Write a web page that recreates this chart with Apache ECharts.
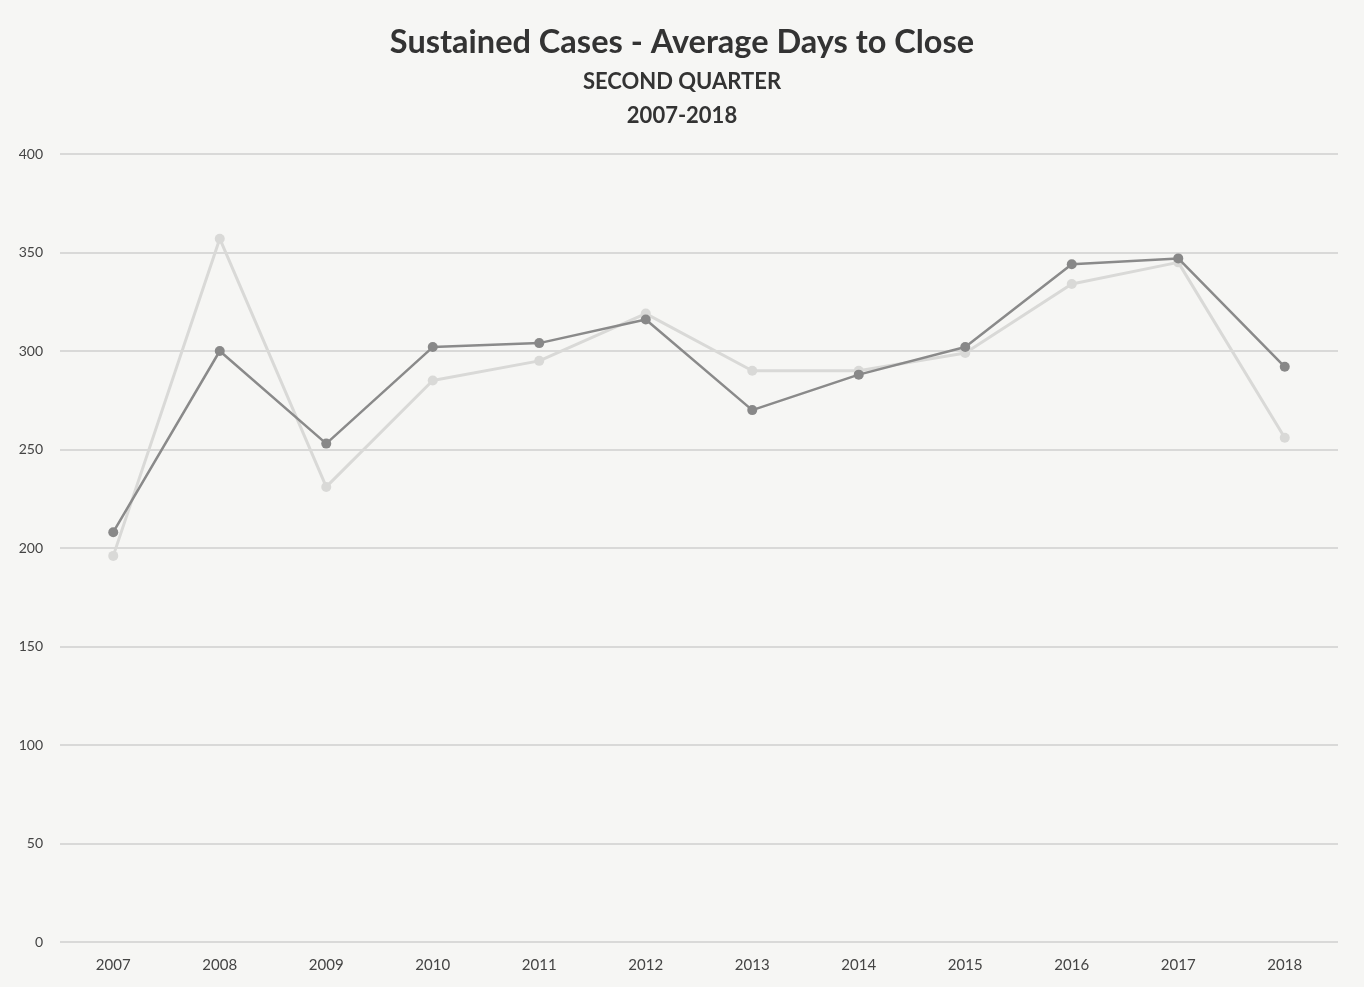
<!DOCTYPE html>
<html>
<head>
<meta charset="utf-8">
<script src="https://cdn.jsdelivr.net/npm/echarts@6/dist/echarts.min.js"></script>
<style>
  html, body { margin: 0; padding: 0; background: #f6f6f4; }
  #chart { width: 1364px; height: 987px; }
</style>
</head>
<body>
<div id="chart"></div>
<script>
// years on the x axis
const years = ['2007', '2008', '2009', '2010', '2011', '2012', '2013', '2014', '2015', '2016', '2017', '2018'];
// dark line
const darkValues = [208, 300, 253, 302, 304, 316, 270, 288, 302, 344, 347, 292];
// light line
const lightValues = [196, 357, 231, 285, 295, 319, 290, 290, 299, 334, 345, 256];
const yTicks = [0, 50, 100, 150, 200, 250, 300, 350, 400];

const chart = echarts.init(document.getElementById('chart'));

chart.setOption({
  backgroundColor: '#f6f6f4',
  animation: false,
  title: [
    {
      text: 'Sustained Cases - Average Days to Close',
      left: 'center',
      top: 21,
      textStyle: { fontFamily: 'Lato', fontSize: 32.5, fontWeight: 'bold', color: '#333' }
    },
    {
      text: 'SECOND QUARTER\n2007-2018',
      left: 'center',
      top: 60,
      textStyle: { fontFamily: 'Lato', fontSize: 22, fontWeight: 'bold', color: '#333', lineHeight: 34 }
    }
  ],
  grid: { left: 60, right: 26, top: 154, bottom: 45 },
  xAxis: {
    type: 'category',
    data: years,
    boundaryGap: true,
    axisLine: { show: false },
    axisTick: { show: false },
    axisLabel: { color: '#444', fontFamily: 'Lato', fontSize: 15, margin: 16 }
  },
  yAxis: {
    type: 'value',
    min: yTicks[0],
    max: yTicks[yTicks.length - 1],
    interval: 50,
    axisLine: { show: false },
    axisTick: { show: false },
    axisLabel: { color: '#444', fontFamily: 'Lato', fontSize: 14, margin: 17 },
    splitLine: { lineStyle: { color: '#cfcfcf', width: 1.5 } }
  },
  series: [
    {
      name: 'Light',
      type: 'line',
      data: lightValues,
      symbol: 'circle',
      symbolSize: 10,
      lineStyle: { color: '#d9d9d7', width: 3 },
      itemStyle: { color: '#d9d9d7' },
      z: 2
    },
    {
      name: 'Dark',
      type: 'line',
      data: darkValues,
      symbol: 'circle',
      symbolSize: 10,
      lineStyle: { color: '#8a8a8a', width: 2.5 },
      itemStyle: { color: '#888' },
      z: 3
    }
  ]
});
</script>
</body>
</html>
